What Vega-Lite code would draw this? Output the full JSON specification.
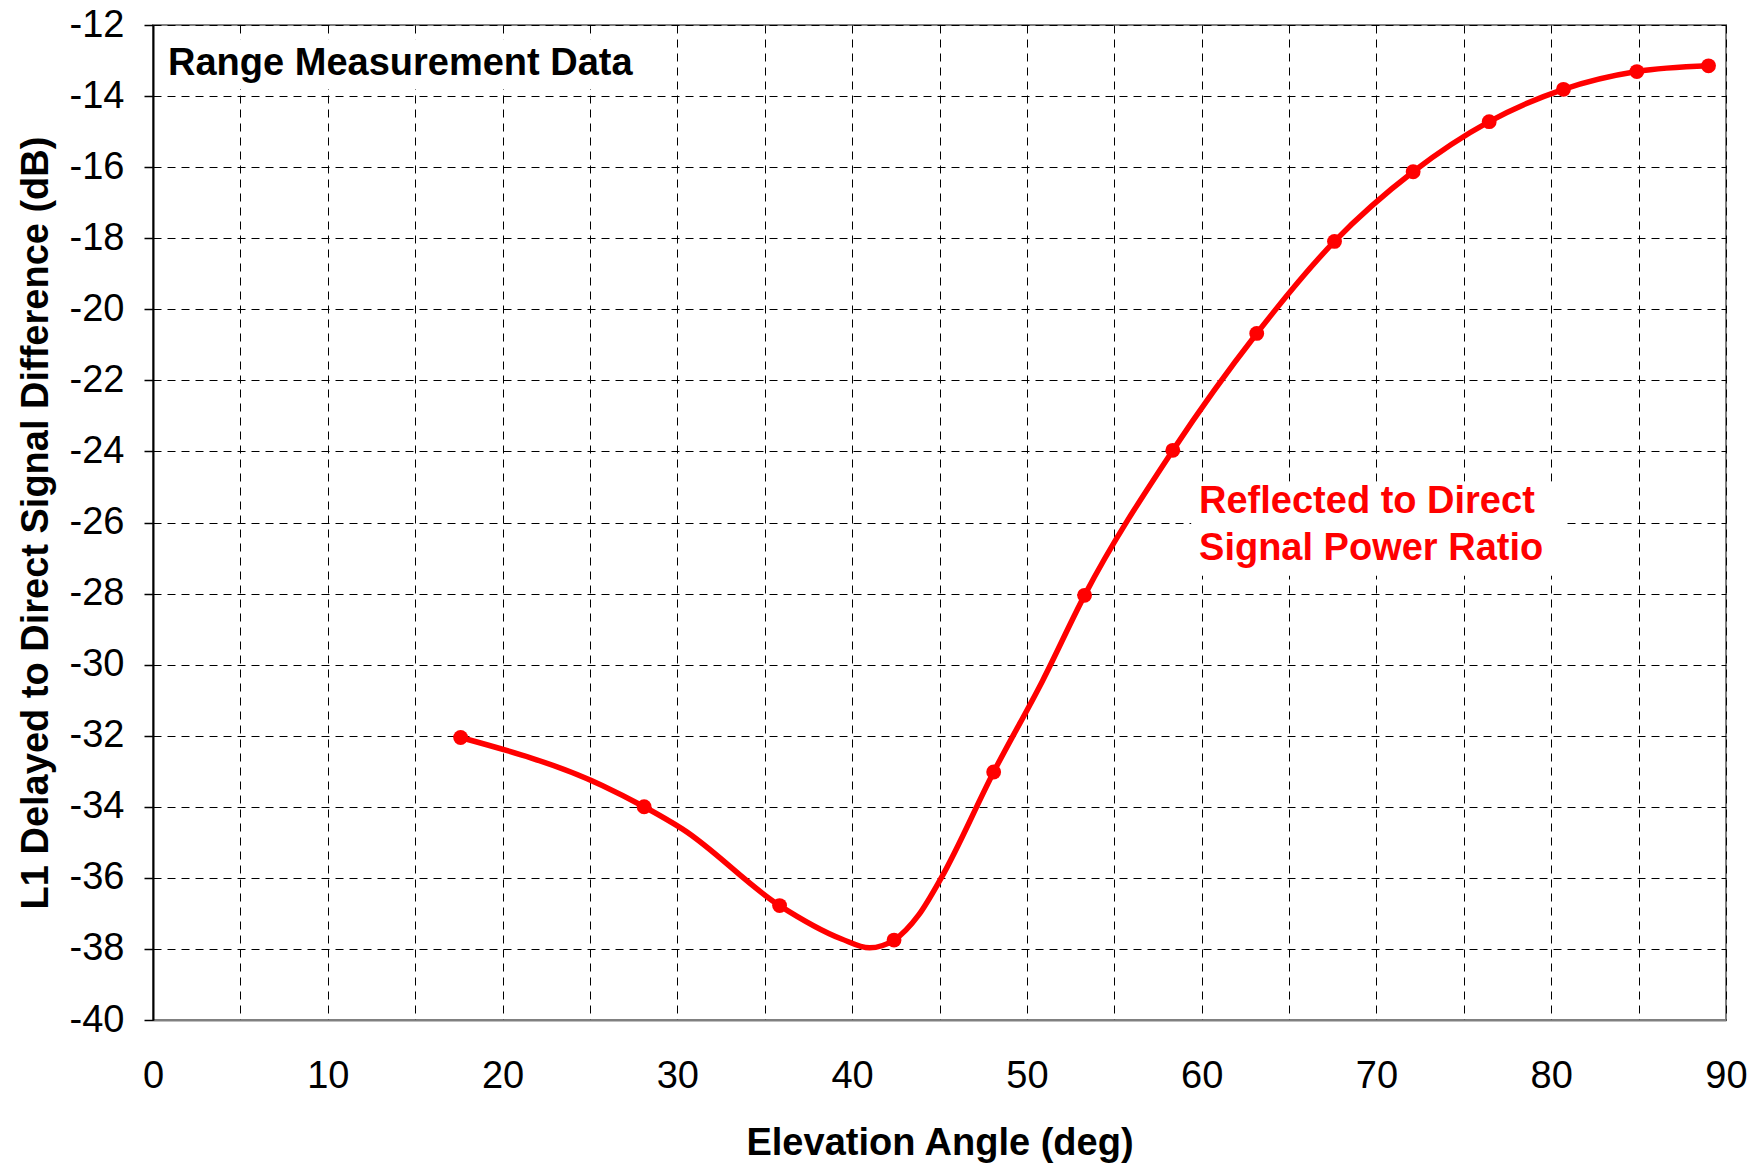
{
  "$schema": "https://vega.github.io/schema/vega-lite/v6.json",
  "width": 1573,
  "height": 995,
  "autosize": {"type": "none"},
  "padding": {"left": 153, "top": 25, "right": 26, "bottom": 143},
  "background": "white",
  "config": {"font": "Liberation Sans", "view": {"stroke": "#808080", "strokeWidth": 2}},
  "datasets": {
    "curve": [
      {"angle": 17.6, "db": -32.05},
      {"angle": 25.7, "db": -33.4},
      {"angle": 28.1, "db": -34.0},
      {"angle": 30.3, "db": -34.63},
      {"angle": 35.85, "db": -36.78},
      {"angle": 39.4, "db": -37.72},
      {"angle": 41.0, "db": -37.97},
      {"angle": 42.4, "db": -37.75},
      {"angle": 43.8, "db": -37.05},
      {"angle": 45.1, "db": -36.0},
      {"angle": 48.1, "db": -33.02},
      {"angle": 50.9, "db": -30.45},
      {"angle": 53.3, "db": -28.05},
      {"angle": 58.35, "db": -23.97},
      {"angle": 63.15, "db": -20.68},
      {"angle": 67.6, "db": -18.09},
      {"angle": 72.1, "db": -16.13},
      {"angle": 76.45, "db": -14.72},
      {"angle": 80.7, "db": -13.81},
      {"angle": 84.9, "db": -13.31},
      {"angle": 89.0, "db": -13.15}
    ],
    "markers": [
      {"angle": 17.6, "db": -32.05},
      {"angle": 28.1, "db": -34.0},
      {"angle": 35.85, "db": -36.78},
      {"angle": 42.4, "db": -37.75},
      {"angle": 48.1, "db": -33.02},
      {"angle": 53.3, "db": -28.05},
      {"angle": 58.35, "db": -23.97},
      {"angle": 63.15, "db": -20.68},
      {"angle": 67.6, "db": -18.09},
      {"angle": 72.1, "db": -16.13},
      {"angle": 76.45, "db": -14.72},
      {"angle": 80.7, "db": -13.81},
      {"angle": 84.9, "db": -13.31},
      {"angle": 89.0, "db": -13.15}
    ],
    "boxes": [
      {"angle": 0.3, "angle2": 28.5, "db": -12.4, "db2": -13.8},
      {"angle": 59.4, "angle2": 80.8, "db": -24.85, "db2": -27.5}
    ],
    "labels": [
      {"angle": 0.86, "db": -13.41, "text": "Range Measurement Data", "kind": "title"},
      {"angle": 59.85, "db": -25.72, "text": "Reflected to Direct", "kind": "series"},
      {"angle": 59.85, "db": -27.05, "text": "Signal Power Ratio", "kind": "series"}
    ]
  },
  "layer": [
    {
      "data": {"name": "boxes"},
      "mark": {"type": "rect", "fill": "white", "stroke": null},
      "encoding": {
        "x": {
          "field": "angle", "type": "quantitative",
          "scale": {"domain": [0, 90], "nice": false, "zero": false},
          "axis": {
            "values": [0, 5, 10, 15, 20, 25, 30, 35, 40, 45, 50, 55, 60, 65, 70, 75, 80, 85, 90],
            "labelExpr": "datum.value % 10 === 0 ? datum.label : ''",
            "ticks": false,
            "grid": true, "gridColor": "#000000", "gridDash": [8, 6], "gridWidth": 1, "gridOpacity": 1,
            "domainColor": "#808080", "domainWidth": 2,
            "labelFontSize": 38, "labelColor": "#000000", "labelPadding": 37,
            "labelFlush": false, "labelOverlap": false,
            "title": "Elevation Angle (deg)", "titleFontSize": 38, "titleFontWeight": "bold",
            "titleColor": "#000000", "titlePadding": 29
          }
        },
        "x2": {"field": "angle2"},
        "y": {
          "field": "db", "type": "quantitative",
          "scale": {"domain": [-40, -12], "nice": false, "zero": false},
          "axis": {
            "values": [-40, -38, -36, -34, -32, -30, -28, -26, -24, -22, -20, -18, -16, -14, -12],
            "labelExpr": "'-' + abs(datum.value)",
            "ticks": true, "tickSize": 9, "tickColor": "#000000", "tickWidth": 1.5,
            "grid": true, "gridColor": "#000000", "gridDash": [8, 6], "gridWidth": 1, "gridOpacity": 1,
            "domainColor": "#000000", "domainWidth": 2,
            "labelFontSize": 38, "labelColor": "#000000", "labelPadding": 20,
            "labelFlush": false, "labelOverlap": false,
            "title": "L1 Delayed to Direct Signal Difference (dB)", "titleFontSize": 38, "titleFontWeight": "bold",
            "titleColor": "#000000", "titlePadding": 14
          }
        },
        "y2": {"field": "db2"}
      }
    },
    {
      "data": {"name": "curve"},
      "mark": {"type": "line", "color": "#FF0000", "strokeWidth": 5.5, "interpolate": "monotone"},
      "encoding": {
        "x": {"field": "angle", "type": "quantitative"},
        "y": {"field": "db", "type": "quantitative"}
      }
    },
    {
      "data": {"name": "markers"},
      "mark": {"type": "point", "filled": true, "color": "#FF0000", "size": 220, "opacity": 1},
      "encoding": {
        "x": {"field": "angle", "type": "quantitative"},
        "y": {"field": "db", "type": "quantitative"}
      }
    },
    {
      "data": {"name": "labels"},
      "mark": {"type": "text", "align": "left", "baseline": "alphabetic", "fontSize": 38, "fontWeight": "bold"},
      "encoding": {
        "x": {"field": "angle", "type": "quantitative"},
        "y": {"field": "db", "type": "quantitative"},
        "text": {"field": "text"},
        "color": {"field": "kind", "type": "nominal", "scale": {"domain": ["title", "series"], "range": ["#000000", "#FF0000"]}, "legend": null}
      }
    }
  ]
}
